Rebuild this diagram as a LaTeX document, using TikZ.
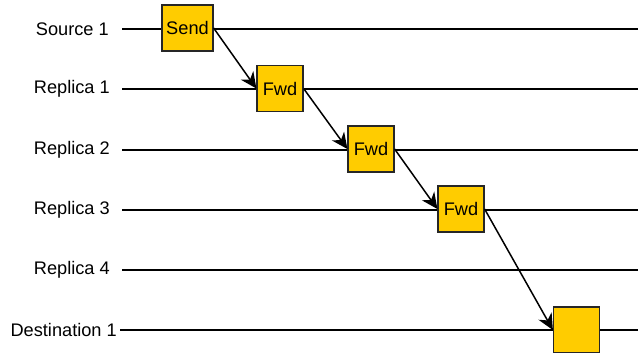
\documentclass[tikz,border=0pt]{standalone}
\usepackage{fontspec}
\setmainfont{Liberation Sans}
\usetikzlibrary{arrows.meta}
\definecolor{boxfill}{RGB}{255,204,0}
\begin{document}
\begin{tikzpicture}[x=1pt,y=-1pt,
  lane/.style={line width=1.4pt, black},
  lanelabel/.style={anchor=east, inner sep=0pt, font=\fontsize{18.2}{21}\selectfont},
  msgbox/.style={draw=black!85, line width=1.2pt, fill=boxfill,
    minimum width=46pt, minimum height=46pt, inner sep=0pt, font=\fontsize{18.2}{21}\selectfont},
  msg/.style={line width=1.5pt, -{Stealth[length=16pt,width=15pt,inset=5pt]}}]
\useasboundingbox (0,0) rectangle (638,353);

% lane labels and their time lines
\node[lanelabel] (l0) at (109,29) {Source 1};
\node[lanelabel] (l1) at (110,89) {Replica 1};
\node[lanelabel] (l2) at (110,150) {Replica 2};
\node[lanelabel] (l3) at (110,210) {Replica 3};
\node[lanelabel] (l4) at (110,270) {Replica 4};
\node[lanelabel] (l5) at (117,330) {Destination 1};

\coordinate (s0) at (122,29);  \coordinate (e0) at (638,29);
\coordinate (s1) at (122,89);  \coordinate (e1) at (638,89);
\coordinate (s2) at (122,150); \coordinate (e2) at (638,150);
\coordinate (s3) at (122,210); \coordinate (e3) at (638,210);
\coordinate (s4) at (122,270); \coordinate (e4) at (638,270);
\coordinate (s5) at (120,330); \coordinate (e5) at (638,330);
\foreach \i in {0,...,5} \draw[lane] (s\i) -- (e\i);

% message boxes
\node[msgbox, minimum width=51pt] (send) at (187.5,28) {Send};
\node[msgbox] (f1) at (280,88.5) {Fwd};
\node[msgbox] (f2) at (371,149) {Fwd};
\node[msgbox] (f3) at (461,209) {Fwd};
\node[msgbox] (dst) at (576.5,330) {};

% forwarding hops
\draw[msg] (send.east) -- (f1.west);
\draw[msg] (f1.east) -- (f2.west);
\draw[msg] (f2.east) -- (f3.west);
\draw[msg] (f3.east) -- (dst.west);
\end{tikzpicture}
\end{document}
